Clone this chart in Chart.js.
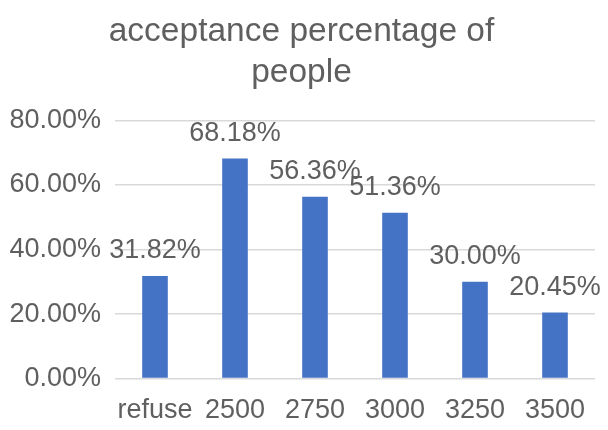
<!DOCTYPE html>
<html>
<head>
<meta charset="utf-8">
<script src="https://cdn.jsdelivr.net/npm/chart.js@4.4.1/dist/chart.umd.min.js"></script>
<style>
  html, body { margin: 0; padding: 0; background: #fff; }
  #wrap { width: 608px; height: 430px; position: relative; }
</style>
</head>
<body>
<div id="wrap"><canvas id="chart"></canvas></div>
<script>
// acceptance rate per offered amount
const categories = ['refuse', '2500', '2750', '3000', '3250', '3500'];
const acceptance = [31.82, 68.18, 56.36, 51.36, 30.00, 20.45];
const yTicks = [0, 20, 40, 60, 80];

const textColor = '#5f5f5f';
const fontFamily = '"Liberation Sans", Arial, sans-serif';

// writes the value above each bar
const valueLabels = {
  id: 'valueLabels',
  afterDatasetsDraw(chart) {
    const ctx = chart.ctx;
    const meta = chart.getDatasetMeta(0);
    ctx.save();
    ctx.font = '27px ' + fontFamily;
    ctx.fillStyle = textColor;
    ctx.textAlign = 'center';
    ctx.textBaseline = 'middle';
    meta.data.forEach(function(bar, i) {
      ctx.fillText(acceptance[i].toFixed(2) + '%', bar.x, bar.y - 25);
    });
    ctx.restore();
  }
};

new Chart(document.getElementById('chart'), {
  type: 'bar',
  data: {
    labels: categories,
    datasets: [{
      data: acceptance,
      backgroundColor: '#4472C4',
      categoryPercentage: 1,
      barPercentage: 0.32
    }]
  },
  options: {
    responsive: true,
    maintainAspectRatio: false,
    animation: false,
    layout: { padding: { left: 8, right: 13, top: 0, bottom: -13 } },
    plugins: {
      legend: { display: false },
      tooltip: { enabled: false },
      title: {
        display: true,
        text: ['acceptance percentage of', 'people'],
        color: textColor,
        font: { family: fontFamily, size: 33.5, weight: 'normal', lineHeight: 1.2 },
        padding: { top: 12, bottom: 28 }
      }
    },
    scales: {
      x: {
        grid: { display: false, drawTicks: false },
        border: { display: false },
        ticks: {
          color: textColor,
          font: { family: fontFamily, size: 27 },
          padding: 16,
          autoSkip: false,
          maxRotation: 0,
          minRotation: 0
        }
      },
      y: {
        min: 0,
        max: 80,
        afterBuildTicks(axis) {
          axis.ticks = yTicks.map(function(v) { return { value: v }; });
        },
        afterFit(axis) {
          axis.width = 107;
        },
        grid: { color: '#d9d9d9', lineWidth: 1.5, drawTicks: false },
        border: { display: false },
        ticks: {
          color: textColor,
          font: { family: fontFamily, size: 27 },
          padding: 14,
          callback: function(v) { return v.toFixed(2) + '%'; }
        }
      }
    }
  },
  plugins: [valueLabels]
});
</script>
</body>
</html>
